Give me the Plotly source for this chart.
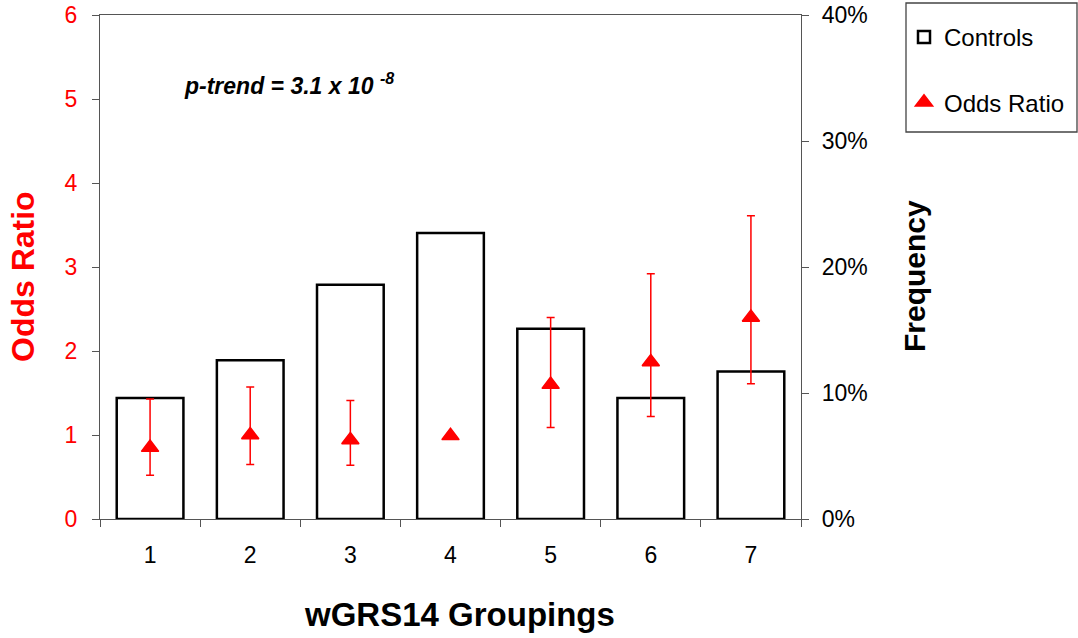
import plotly.graph_objects as go

# ---- data ----
groups = ["1", "2", "3", "4", "5", "6", "7"]
controls_freq = [9.6, 12.6, 18.6, 22.7, 15.1, 9.6, 11.7]          # % (right axis)
odds_ratio = [0.85, 1.00, 0.94, 0.99, 1.60, 1.87, 2.40]           # left axis
ci_upper = [1.43, 1.57, 1.41, None, 2.40, 2.92, 3.61]
ci_lower = [0.52, 0.65, 0.64, None, 1.09, 1.22, 1.61]
left_ticks = [0, 1, 2, 3, 4, 5, 6]
right_ticks = [0, 10, 20, 30, 40]
right_tick_labels = ["0%", "10%", "20%", "30%", "40%"]

err_plus = [None if u is None else u - o for u, o in zip(ci_upper, odds_ratio)]
err_minus = [None if l is None else o - l for l, o in zip(ci_lower, odds_ratio)]

FONT = "Liberation Sans, Arial, sans-serif"
RED = "#ff0000"
AXC = "#555555"

fig = go.Figure()
fig.add_trace(go.Bar(
    x=groups, y=controls_freq, name="Controls", yaxis="y",
    marker=dict(color="white", line=dict(color="black", width=2.5)),
    legendgroup="a",
))
fig.add_trace(go.Scatter(
    x=groups, y=odds_ratio, name="Odds Ratio", yaxis="y2", mode="markers",
    marker=dict(symbol="triangle-up", size=15, color=RED, line=dict(color=RED, width=1.5)),
    error_y=dict(type="data", array=err_plus, arrayminus=err_minus, symmetric=False,
                 color=RED, thickness=1.5, width=4),
    legendgroup="b",
))

W, H = 1078, 638
L, R, T, B = 100, 277, 15, 119
pw, ph = W - L - R, H - T - B

def px(x):
    return (x - L) / pw

def py(y):
    return (H - B - y) / ph

fig.update_layout(
    width=W, height=H,
    margin=dict(l=L, r=R, t=T, b=B, autoexpand=False),
    paper_bgcolor="white", plot_bgcolor="white",
    font=dict(family=FONT, size=22, color="black"),
    bargap=0.334,
    showlegend=True,
    legend=dict(x=px(904), y=py(15), xanchor="left", yanchor="top",
                bgcolor="rgba(0,0,0,0)", borderwidth=0,
                font=dict(size=24, color="black"),
                traceorder="grouped", tracegroupgap=31),
    xaxis=dict(type="category", range=[-0.5, 6.5], tickson="boundaries",
               ticks="outside", ticklen=7, tickcolor=AXC, tickwidth=1.3,
               showline=True, linecolor=AXC, linewidth=1.3, mirror=True,
               showgrid=False, zeroline=False,
               tickfont=dict(size=23, color="black"), ticklabelstandoff=15),
    yaxis=dict(side="right", range=[0, 40], tickmode="array", tickvals=right_ticks,
               ticktext=right_tick_labels,
               ticks="outside", ticklen=7, tickcolor=AXC, tickwidth=1.3,
               showline=True, linecolor=AXC, linewidth=1.3,
               showgrid=False, zeroline=False,
               tickfont=dict(size=23, color="black"), ticklabelstandoff=8),
    yaxis2=dict(side="left", overlaying="y", range=[0, 6], tickvals=left_ticks,
                ticks="outside", ticklen=7, tickcolor=AXC, tickwidth=1.3,
                showline=True, linecolor=AXC, linewidth=1.3,
                showgrid=False, zeroline=False,
                tickfont=dict(size=23, color=RED), ticklabelstandoff=10),
    yaxis3=dict(side="right", overlaying="y", range=[0, 40], tickmode="array",
                tickvals=right_ticks,
                ticks="inside", ticklen=7, tickcolor=AXC, tickwidth=1.3,
                showticklabels=False, showline=False, showgrid=False, zeroline=False),
    shapes=[dict(type="rect", xref="paper", yref="paper",
                 x0=px(906), x1=px(1077), y0=py(132), y1=py(3),
                 line=dict(color="#444444", width=1.3), fillcolor="rgba(0,0,0,0)")],
    annotations=[
        dict(text="<b><i>p-trend = 3.1 x 10 <sup>-8</sup></i></b>", xref="paper", yref="paper",
             x=px(182), y=py(84), xanchor="left", yanchor="middle", showarrow=False,
             font=dict(size=23, color="black")),
        dict(text="<b>Odds Ratio</b>", xref="paper", yref="paper", x=px(23), y=py(277),
             textangle=-90, xanchor="center", yanchor="middle", showarrow=False,
             font=dict(size=32, color=RED)),
        dict(text="<b>Frequency</b>", xref="paper", yref="paper", x=px(915), y=py(276),
             textangle=-90, xanchor="center", yanchor="middle", showarrow=False,
             font=dict(size=30, color="black")),
        dict(text="<b>wGRS14 Groupings</b>", xref="paper", yref="paper", x=px(459), y=py(614),
             xanchor="center", yanchor="middle", showarrow=False,
             font=dict(size=33, color="black")),
    ],
)

fig.write_html("out.html")
